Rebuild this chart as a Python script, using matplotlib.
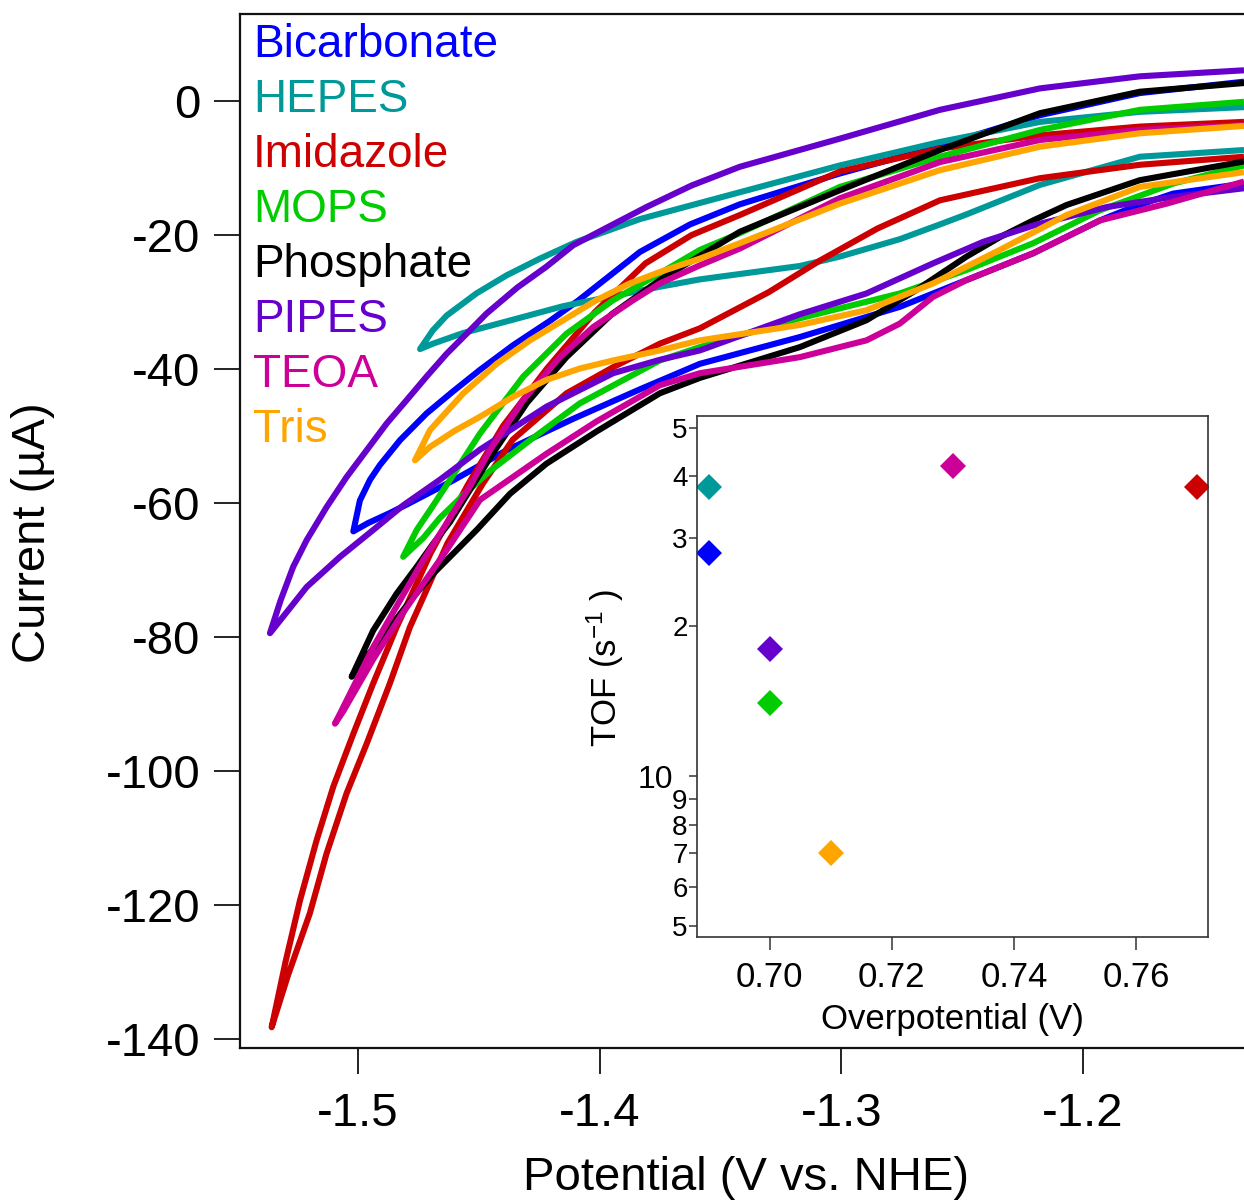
import matplotlib
matplotlib.use("Agg")
import matplotlib.pyplot as plt
from matplotlib.ticker import NullLocator

plt.rcParams['font.family'] = ['Liberation Sans', 'DejaVu Sans']
plt.rcParams['mathtext.fontset'] = 'custom'
plt.rcParams['mathtext.rm'] = 'Liberation Sans'
plt.rcParams['mathtext.it'] = 'Liberation Sans:italic'
plt.rcParams['mathtext.default'] = 'regular'

# ---------------- data: cyclic voltammograms (V vs NHE, current in uA) ----------------
buffers = ["Bicarbonate", "HEPES", "Imidazole", "MOPS", "Phosphate", "PIPES", "TEOA", "Tris"]
colors = ["#0000FF", "#009999", "#CC0000", "#00CC00", "#000000", "#6600CC", "#CC0099", "#FFA500"]

# upper branch: from switching tip to positive end; lower branch: from near tip to positive end
bicarb_up_V = [-1.5019, -1.4992, -1.4950, -1.4909, -1.4826, -1.4716, -1.4606, -1.4495, -1.4357, -1.4206, -1.4090, -1.3833, -1.3626, -1.3420, -1.3006, -1.2592, -1.2178, -1.1765, -1.1334]
bicarb_up_I = [-64.2, -59.6, -56.5, -54.3, -50.6, -46.6, -43.3, -40.1, -36.4, -32.8, -29.8, -22.5, -18.4, -15.4, -10.8, -6.7, -2.1, 1.2, 2.9]
bicarb_lo_V = [-1.4960, -1.4870, -1.4798, -1.4606, -1.4385, -1.4109, -1.3833, -1.3585, -1.3171, -1.2758, -1.2482, -1.2206, -1.1930, -1.1792, -1.1627, -1.1334]
bicarb_lo_I = [-63.0, -61.5, -60.2, -56.6, -52.1, -47.4, -43.0, -39.2, -35.2, -30.7, -26.7, -22.7, -17.8, -15.8, -13.8, -12.3]

hepes_up_V = [-1.4743, -1.4690, -1.4633, -1.4510, -1.4385, -1.4247, -1.4095, -1.3833, -1.3420, -1.3006, -1.2592, -1.2178, -1.1765, -1.1334]
hepes_up_I = [-37.0, -34.2, -32.0, -28.7, -26.0, -23.5, -21.0, -17.6, -13.6, -9.6, -6.1, -3.1, -1.6, -0.9]
hepes_lo_V = [-1.4690, -1.4564, -1.4357, -1.4151, -1.3944, -1.3751, -1.3585, -1.3420, -1.3171, -1.3006, -1.2758, -1.2592, -1.2482, -1.2178, -1.1765, -1.1334]
hepes_lo_I = [-36.2, -34.6, -32.6, -30.6, -29.1, -27.7, -26.6, -25.8, -24.6, -23.2, -20.6, -18.4, -16.9, -12.5, -8.3, -7.3]

imid_up_V = [-1.5357, -1.5300, -1.5240, -1.5171, -1.5102, -1.5019, -1.4937, -1.4840, -1.4700, -1.4546, -1.4400, -1.4220, -1.4020, -1.3810, -1.3620, -1.3420, -1.3006, -1.2592, -1.2178, -1.1765, -1.1334]
imid_up_I = [-138.2, -128.5, -119.3, -110.3, -102.3, -94.4, -86.9, -78.5, -67.5, -57.3, -48.5, -40.0, -31.5, -24.2, -20.0, -17.0, -10.5, -7.1, -5.1, -3.8, -3.1]
imid_lo_V = [-1.5290, -1.5199, -1.5130, -1.5047, -1.4964, -1.4868, -1.4785, -1.4630, -1.4482, -1.4359, -1.4137, -1.3944, -1.3751, -1.3585, -1.3300, -1.3089, -1.2850, -1.2592, -1.2178, -1.1765, -1.1334]
imid_lo_I = [-130.5, -121.2, -112.3, -103.3, -95.9, -86.9, -78.5, -66.0, -57.0, -50.5, -43.6, -39.7, -36.2, -33.9, -28.5, -23.8, -19.0, -14.8, -11.5, -9.5, -8.3]

mops_up_V = [-1.4813, -1.4757, -1.4688, -1.4619, -1.4495, -1.4316, -1.4137, -1.3944, -1.3751, -1.3585, -1.3420, -1.3006, -1.2592, -1.2178, -1.1765, -1.1334]
mops_up_I = [-68.0, -64.0, -60.3, -56.5, -49.6, -41.1, -34.7, -29.7, -25.7, -22.2, -19.7, -12.8, -8.3, -4.3, -1.3, -0.1]
mops_lo_V = [-1.4730, -1.4661, -1.4564, -1.4454, -1.4288, -1.4082, -1.3751, -1.3585, -1.3171, -1.2758, -1.2482, -1.2206, -1.1930, -1.1627, -1.1334]
mops_lo_I = [-65.2, -62.2, -58.8, -55.2, -50.6, -45.1, -38.7, -36.7, -32.4, -28.7, -25.2, -21.2, -16.3, -12.3, -9.6]

phos_up_V = [-1.5026, -1.4937, -1.4840, -1.4757, -1.4688, -1.4619, -1.4450, -1.4300, -1.4137, -1.3950, -1.3751, -1.3420, -1.3006, -1.2592, -1.2178, -1.1765, -1.1334]
phos_up_I = [-85.9, -79.0, -73.5, -69.5, -66.0, -62.8, -53.0, -45.0, -38.2, -31.8, -26.7, -19.5, -13.3, -7.3, -1.8, 1.4, 2.7]
phos_lo_V = [-1.4964, -1.4868, -1.4771, -1.4688, -1.4619, -1.4509, -1.4371, -1.4220, -1.4013, -1.3751, -1.3585, -1.3171, -1.2896, -1.2690, -1.2482, -1.2344, -1.2206, -1.2068, -1.1765, -1.1334]
phos_lo_I = [-82.9, -78.5, -74.0, -70.5, -68.0, -64.0, -58.6, -54.1, -49.3, -43.6, -41.3, -36.7, -32.7, -28.2, -23.2, -20.3, -17.8, -15.5, -11.8, -9.0]

pipes_up_V = [-1.5364, -1.5320, -1.5268, -1.5212, -1.5130, -1.5047, -1.4964, -1.4881, -1.4798, -1.4716, -1.4633, -1.4550, -1.4468, -1.4340, -1.4220, -1.4109, -1.3950, -1.3806, -1.3620, -1.3420, -1.3006, -1.2592, -1.2178, -1.1765, -1.1334]
pipes_up_I = [-79.4, -74.5, -69.5, -65.5, -60.6, -56.1, -52.1, -48.1, -44.6, -41.1, -37.7, -34.7, -31.7, -27.8, -24.7, -21.5, -18.5, -15.8, -12.6, -9.8, -5.6, -1.3, 1.9, 3.7, 4.6]
pipes_lo_V = [-1.5300, -1.5212, -1.5074, -1.4937, -1.4812, -1.4661, -1.4495, -1.4220, -1.3944, -1.3751, -1.3585, -1.3171, -1.2896, -1.2620, -1.2413, -1.2200, -1.1900, -1.1630, -1.1334]
pipes_lo_I = [-76.5, -72.5, -68.0, -64.0, -60.3, -56.5, -52.0, -45.6, -40.6, -38.6, -37.2, -31.8, -28.7, -24.2, -21.0, -18.5, -15.8, -14.3, -13.0]

teoa_up_V = [-1.5095, -1.4937, -1.4826, -1.4730, -1.4633, -1.4537, -1.4454, -1.4316, -1.4164, -1.4026, -1.3861, -1.3751, -1.3585, -1.3420, -1.3006, -1.2592, -1.2178, -1.1765, -1.1334]
teoa_up_I = [-92.9, -81.5, -74.5, -68.5, -63.0, -57.5, -52.1, -44.6, -38.2, -33.7, -29.7, -27.2, -24.5, -22.0, -14.5, -9.1, -5.8, -4.3, -3.6]
teoa_lo_V = [-1.5060, -1.4937, -1.4826, -1.4730, -1.4633, -1.4495, -1.4219, -1.4013, -1.3751, -1.3585, -1.3171, -1.2896, -1.2758, -1.2620, -1.2482, -1.2206, -1.1930, -1.1654, -1.1334]
teoa_lo_I = [-91.0, -83.3, -77.0, -72.0, -67.0, -59.5, -52.6, -47.8, -42.4, -40.6, -38.2, -35.7, -33.2, -29.2, -26.7, -22.7, -17.8, -15.3, -12.0]

tris_up_V = [-1.4764, -1.4702, -1.4564, -1.4426, -1.4288, -1.4151, -1.4013, -1.3875, -1.3751, -1.3585, -1.3420, -1.3006, -1.2592, -1.2178, -1.1765, -1.1334]
tris_up_I = [-53.6, -49.1, -43.6, -39.2, -35.7, -32.7, -29.7, -27.2, -25.5, -23.5, -21.2, -15.3, -10.3, -6.8, -4.8, -3.7]
tris_lo_V = [-1.4702, -1.4600, -1.4495, -1.4357, -1.4220, -1.4082, -1.3944, -1.3751, -1.3585, -1.3171, -1.2896, -1.2620, -1.2344, -1.2068, -1.1765, -1.1334]
tris_lo_I = [-51.6, -49.2, -47.1, -44.1, -41.6, -39.9, -38.7, -37.2, -35.7, -33.4, -31.2, -27.2, -22.2, -17.0, -12.8, -10.6]

# ---------------- data: inset (TOF vs overpotential) ----------------
tof_buffers = ["Bicarbonate", "HEPES", "Imidazole", "MOPS", "PIPES", "TEOA", "Tris"]
tof_colors = ["#0000FF", "#009999", "#CC0000", "#00CC00", "#6600CC", "#CC0099", "#FFA500"]
overpotential = [0.69, 0.69, 0.77, 0.70, 0.70, 0.73, 0.71]
tof = [28, 38, 38, 14, 18, 42, 7]

main_xticks = [-1.5, -1.4, -1.3, -1.2]
main_yticks = [0, -20, -40, -60, -80, -100, -120, -140]
inset_xticks = [0.70, 0.72, 0.74, 0.76]
inset_xticklabels = ["0.70", "0.72", "0.74", "0.76"]
inset_yticks = [5, 6, 7, 8, 9, 10, 20, 30, 40, 50]
inset_yticklabels = ["5", "6", "7", "8", "9", "10", "2", "3", "4", "5"]

cv = [
    (bicarb_up_V, bicarb_up_I, bicarb_lo_V, bicarb_lo_I),
    (hepes_up_V, hepes_up_I, hepes_lo_V, hepes_lo_I),
    (imid_up_V, imid_up_I, imid_lo_V, imid_lo_I),
    (mops_up_V, mops_up_I, mops_lo_V, mops_lo_I),
    (phos_up_V, phos_up_I, phos_lo_V, phos_lo_I),
    (pipes_up_V, pipes_up_I, pipes_lo_V, pipes_lo_I),
    (teoa_up_V, teoa_up_I, teoa_lo_V, teoa_lo_I),
    (tris_up_V, tris_up_I, tris_lo_V, tris_lo_I),
]

W, H = 1244, 1203
fig = plt.figure(figsize=(W / 100, H / 100), dpi=100)
fig.patch.set_facecolor("white")

ax = fig.add_axes([240 / W, 1 - 1048 / H, 1004 / W, (1048 - 14) / H])
for (uv, ui, lv, li), c in zip(cv, colors):
    V = uv[::-1] + lv
    I = ui[::-1] + li
    ax.plot(V, I, color=c, lw=4.4, solid_joinstyle="round", solid_capstyle="butt")

ax.set_xlim(-1.5488, -1.1334)
ax.set_ylim(-141.3, 13.0)
ax.set_xticks(main_xticks)
ax.set_xticklabels([f"{t:.1f}" for t in main_xticks])
ax.set_yticks(main_yticks)
ax.set_yticklabels([str(t) for t in main_yticks])
ax.tick_params(direction="out", length=18.5, width=1.3, labelsize=34, color="#111111")
ax.tick_params(axis="x", pad=13)
ax.tick_params(axis="y", pad=10)
for s in ["left", "bottom", "top"]:
    ax.spines[s].set_linewidth(1.6)
    ax.spines[s].set_color("#111111")
ax.spines["right"].set_visible(False)

# legend as coloured text
for i, (name, c) in enumerate(zip(buffers, colors)):
    ax.text(0.0129, 0.9587 - i * 0.05319, name, color=c, fontsize=33,
            va="baseline", ha="left", transform=ax.transAxes)

fig.text(746 / W, 1 - 1178 / H, "Potential (V vs. NHE)", fontsize=34, ha="center", va="center")
fig.text(33 / W, 1 - 533 / H, "Current (µA)", fontsize=34, ha="center", va="center", rotation=90)

# ---------------- inset ----------------
axin = fig.add_axes([697 / W, 1 - 937 / H, 511 / W, 521 / H])
for x, y, c in zip(overpotential, tof, tof_colors):
    axin.plot([x], [y], marker="D", ms=13.5, color=c, mew=0, ls="none")
axin.set_yscale("log")
axin.set_xlim(0.6881, 0.7718)
axin.set_ylim(4.76, 52.8)
axin.set_xticks(inset_xticks)
axin.set_xticklabels(inset_xticklabels)
axin.set_yticks(inset_yticks)
axin.set_yticklabels(inset_yticklabels)
axin.yaxis.set_minor_locator(NullLocator())
axin.tick_params(axis="x", direction="out", length=9, width=1.1, labelsize=25, pad=8, color="#333333")
axin.tick_params(axis="y", direction="out", length=6, width=1.1, labelsize=20, pad=0.8, color="#333333")
for lab, tk in zip(axin.get_yticklabels(), axin.yaxis.get_major_ticks()):
    if lab.get_text() == "10":
        lab.set_fontsize(23)
        tk.tick1line.set_markersize(9)
        tk.set_pad(11)
for s in axin.spines.values():
    s.set_linewidth(1.2)
    s.set_color("#333333")

fig.text(952 / W, 1 - 1020 / H, "Overpotential (V)", fontsize=25, ha="center", va="center")
fig.text(605 / W, 1 - 668 / H, "TOF (s$^{-1}$ )", fontsize=25, ha="center", va="center", rotation=90)

fig.savefig("out.png", dpi=100, facecolor="white")
